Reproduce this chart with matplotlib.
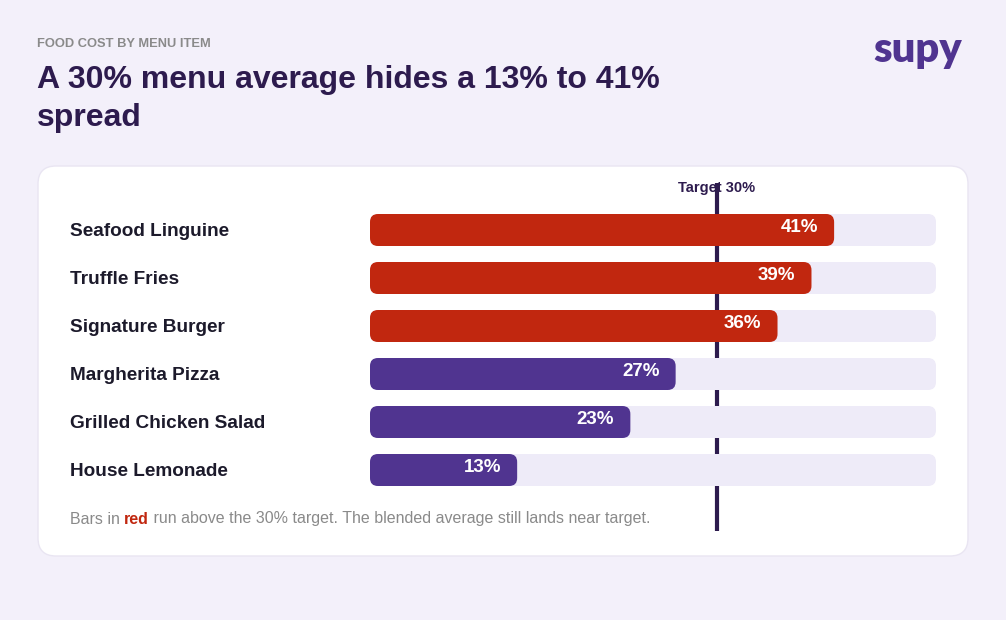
import matplotlib
matplotlib.use("Agg")
import matplotlib.pyplot as plt
from matplotlib.patches import FancyBboxPatch
import matplotlib.transforms as mtransforms

# data
items = ["Seafood Linguine", "Truffle Fries", "Signature Burger",
         "Margherita Pizza", "Grilled Chicken Salad", "House Lemonade"]
food_cost = [41, 39, 36, 27, 23, 13]
target = 30
scale_max = 50

BG = "#F3F0FA"
RED = "#C1270F"
PURPLE = "#503490"
TRACK = "#EEEBF8"
DARK = "#2D1B4E"
INK = "#1C1A2B"
GRAY = "#8A8A8A"

plt.rcParams["font.family"] = ["Liberation Sans", "DejaVu Sans"]

W, H = 1006, 620
fig = plt.figure(figsize=(W / 100, H / 100), dpi=100, facecolor=BG)

# background axes in pixel units
bg = fig.add_axes([0, 0, 1, 1])
bg.set_xlim(0, W)
bg.set_ylim(H, 0)
bg.axis("off")

card = FancyBboxPatch((38, 166), 930, 390, boxstyle="round,pad=0,rounding_size=18",
                      facecolor="white", edgecolor="#E9E5F2", linewidth=1)
bg.add_patch(card)

bg.text(37, 44, "FOOD COST BY MENU ITEM", fontsize=9.3, fontweight="bold",
        color=GRAY, va="center", ha="left")
bg.text(37, 99, "A 30% menu average hides a 13% to 41%\nspread", fontsize=23,
        fontweight="bold", color=DARK, va="center", ha="left", linespacing=1.38)
bg.text(962, 50, "supy", fontsize=30, fontweight="heavy", color=PURPLE,
        ha="right", va="center", family=["Lato", "Liberation Sans"])

# bar axes: row centers 48px apart
top_px, bot_px = 206, 494
ax = fig.add_axes([370 / W, (H - bot_px) / H, 566 / W, (bot_px - top_px) / H])
ax.set_xlim(0, scale_max)
ax.set_ylim(len(items) - 0.5, -0.5)
ax.axis("off")

px_per_x = 566 / scale_max
px_per_y = 48
bar_h = 32 / px_per_y
r = 8 / px_per_x
asp = px_per_x / px_per_y

for i, (name, v) in enumerate(zip(items, food_cost)):
    color = RED if v > target else PURPLE
    ax.add_patch(FancyBboxPatch((0, i - bar_h / 2), scale_max, bar_h,
                                boxstyle=f"round,pad=0,rounding_size={r}",
                                mutation_aspect=asp, facecolor=TRACK,
                                edgecolor="none", zorder=2))
    ax.add_patch(FancyBboxPatch((0, i - bar_h / 2), v, bar_h,
                                boxstyle=f"round,pad=0,rounding_size={r}",
                                mutation_aspect=asp, facecolor=color,
                                edgecolor="none", zorder=3))
    ax.annotate(f"{v}%", (v, i), xytext=(-16, 2), textcoords="offset pixels",
                ha="right", va="center", color="white", fontsize=13.5,
                fontweight="bold", zorder=4)
    bg.text(70, top_px + 25 + 48 * i, name, fontsize=13.7, fontweight="bold",
            color=INK, ha="left", va="center")

# target line (behind the bars)
shift = mtransforms.offset_copy(ax.get_xaxis_transform(), fig=fig, x=7, y=0, units="dots")
ax.plot([target, target], [(bot_px - 183) / (bot_px - top_px),
                           (bot_px - 531) / (bot_px - top_px)],
        transform=shift, color=DARK, linewidth=3, clip_on=False, zorder=1,
        solid_capstyle="butt")
ax.text(target, (bot_px - 188) / (bot_px - top_px), f"Target {target}%",
        transform=shift, ha="center", va="center", fontsize=10.5,
        fontweight="bold", color=DARK, zorder=0.5)

# footnote with bold red word
fig.canvas.draw()
renderer = fig.canvas.get_renderer()
parts = [("Bars in ", GRAY, "normal"), ("red", RED, "bold"),
         (f" run above the {target}% target. The blended average still lands near target.",
          GRAY, "normal")]
x = 70
for txt, c, w in parts:
    t = bg.text(x, 519, txt, fontsize=11.5, color=c, fontweight=w,
                ha="left", va="center")
    bb = t.get_window_extent(renderer)
    x += bb.width

fig.savefig("out.png", dpi=100, facecolor=BG)
